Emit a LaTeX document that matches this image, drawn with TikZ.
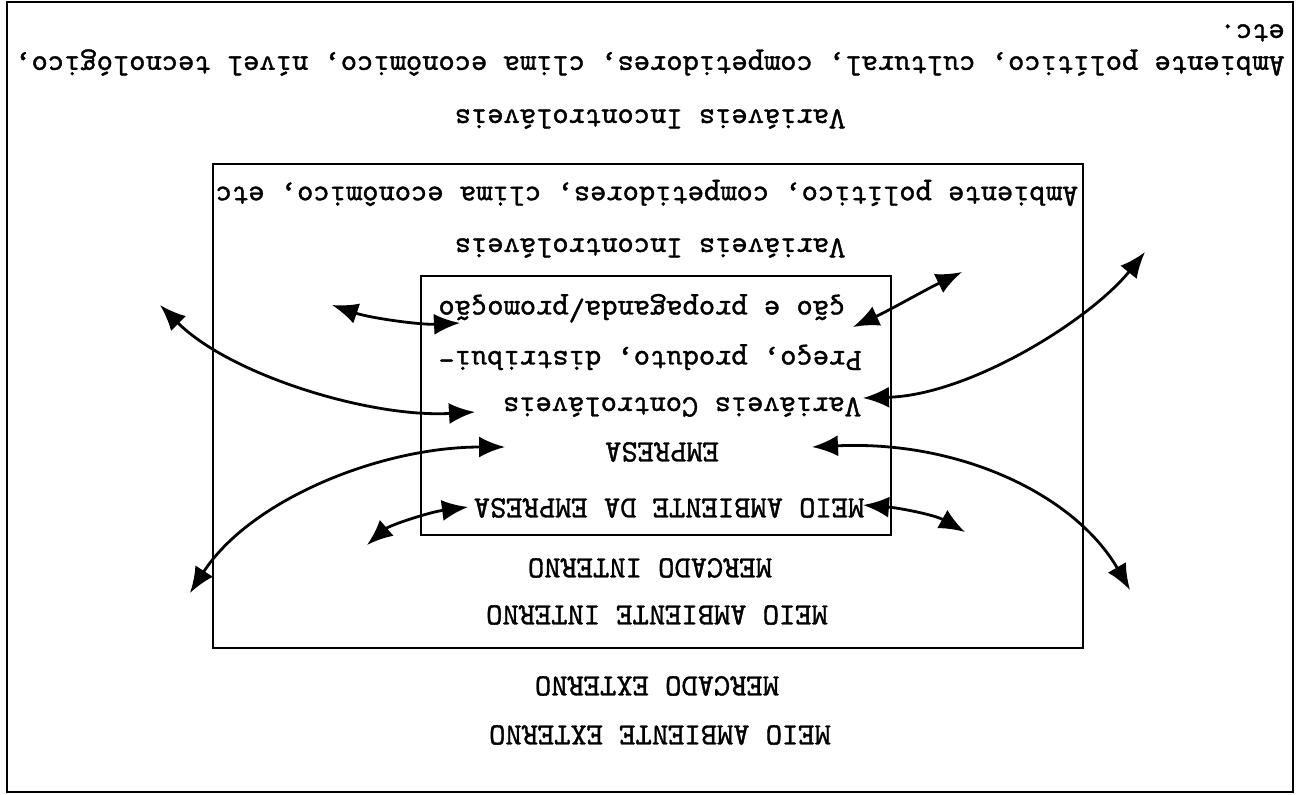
\documentclass[tikz,border=0pt]{standalone}
\usepackage{fontspec}
\newfontfamily\typew{lmmono10-regular.otf}[FakeBold=1.2]
\usetikzlibrary{arrows.meta}
\tikzset{
  txt/.style={rotate=180, font=\typew\fontsize{31}{32}\selectfont, inner sep=0pt},
  frame/.style={draw=black, line width=2.6pt},
  link/.style={line width=2.8pt, {Latex[length=26pt,width=21pt]}-{Latex[length=26pt,width=21pt]}},
}
\begin{document}
\begin{tikzpicture}[x=1pt,y=-1pt]
\useasboundingbox (0,0) rectangle (1296,795);
% boxes
\draw[frame] (7,2) rectangle (1293,792);
\draw[frame] (213,164) rectangle (1083,648);
\draw[frame] (421,276) rectangle (891,535);
% texts (whole picture is upside down)
\node[txt, align=left] (outerdesc) at (650,50) {Ambiente político, cultural, competidores, clima econômico, nível tecnológico,\\etc.};
\node[txt] (outervar) at (650,119) {Variáveis Incontroláveis};
\node[txt] (middesc) at (647,193) {Ambiente político, competidores, clima econômico, etc};
\node[txt] (midvar) at (650,248) {Variáveis Incontroláveis};
\node[txt, align=right] (innerdesc) at (650,332) {Preço, produto, distribui-\\[18pt]ção e propaganda/promoção};
\node[txt] (innervar) at (682,407) {Variáveis Controláveis};
\node[txt] (empresa) at (662,452) {EMPRESA};
\node[txt] (meioemp) at (669,508) {MEIO AMBIENTE DA EMPRESA};
\node[txt] (mercint) at (650,568) {MERCADO INTERNO};
\node[txt] (meioint) at (657,615) {MEIO AMBIENTE INTERNO};
\node[txt] (mercext) at (657,686) {MERCADO EXTERNO};
\node[txt] (meioext) at (660,735) {MEIO AMBIENTE EXTERNO};
% arrow end points
\coordinate (a1s) at (160,305); \coordinate (a1e) at (475,412);
\coordinate (a2s) at (332,305); \coordinate (a2e) at (460,323);
\coordinate (a3s) at (962,272); \coordinate (a3e) at (853,327);
\coordinate (a4s) at (1145,252); \coordinate (a4e) at (863,398);
\coordinate (a5s) at (190,593); \coordinate (a5e) at (505,447);
\coordinate (a6s) at (367,545); \coordinate (a6e) at (468,507);
\coordinate (a7s) at (812,447); \coordinate (a7e) at (1130,590);
\coordinate (a8s) at (863,505); \coordinate (a8e) at (965,532);
% arrows
\draw[link] (a1s) .. controls (230,375) and (370,418) .. (a1e);
\draw[link] (a2s) .. controls (370,318) and (420,325) .. (a2e);
\draw[link] (a3s) .. controls (925,290) and (890,310) .. (a3e);
\draw[link] (a4s) .. controls (1090,320) and (970,395) .. (a4e);
\draw[link] (a5s) .. controls (250,500) and (380,447) .. (a5e);
\draw[link] (a6s) .. controls (390,525) and (430,512) .. (a6e);
\draw[link] (a7s) .. controls (960,440) and (1075,495) .. (a7e);
\draw[link] (a8s) .. controls (900,508) and (935,515) .. (a8e);
\end{tikzpicture}
\end{document}
